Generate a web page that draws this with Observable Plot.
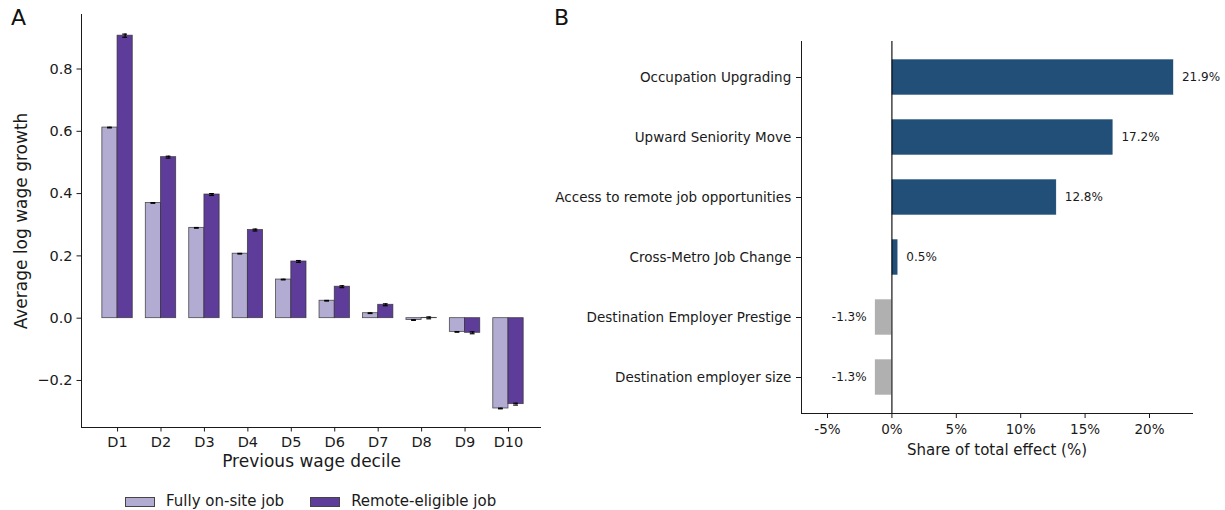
<!DOCTYPE html>
<html><head><meta charset="utf-8">
<script src="https://cdn.jsdelivr.net/npm/d3@7"></script>
<script src="https://cdn.jsdelivr.net/npm/@observablehq/plot@0.6"></script>
<style>
body{margin:0;background:#fff;font-family:"DejaVu Sans",sans-serif;}
#wrap{position:relative;width:1225px;height:510px;overflow:hidden;background:#fff;}
.panel{position:absolute;top:0;}
.letter{position:absolute;font-size:22px;line-height:1;color:#111;}
#legend{position:absolute;left:125px;top:494px;display:flex;align-items:center;font-size:15px;line-height:1;color:#1a1a1a;}
.item{display:flex;align-items:center;margin-right:26px;}
.sw{width:30px;height:10px;box-sizing:border-box;border:1px solid #444;margin-right:11px;}
</style></head><body>
<div id="wrap">
  <div id="pa" class="panel" style="left:0;width:545px"></div>
  <div id="pb" class="panel" style="left:545px;width:680px"></div>
  <div class="letter" style="left:11px;top:7px">A</div>
  <div class="letter" style="left:554px;top:7px">B</div>
  <div id="legend"></div>
</div>
<script>
// ---------- Panel A data ----------
const deciles = ["D1","D2","D3","D4","D5","D6","D7","D8","D9","D10"];
const seriesNames = ["Fully on-site job","Remote-eligible job"];
const seriesColors = ["#b2abd2","#5e3c99"];
const onsite    = [0.612, 0.370, 0.290, 0.207, 0.124, 0.056, 0.016, -0.006, -0.044, -0.290];
const remote    = [0.907, 0.517, 0.397, 0.283, 0.182, 0.101, 0.043, 0.001, -0.047, -0.276];
const onsiteErr = [0.001, 0.001, 0.001, 0.001, 0.001, 0.001, 0.001, 0.001, 0.001, 0.001];
const remoteErr = [0.005, 0.003, 0.003, 0.003, 0.003, 0.003, 0.003, 0.003, 0.003, 0.003];
const yTicksA = [-0.2, 0, 0.2, 0.4, 0.6, 0.8];
const yLabelA = "Average log wage growth";
const xLabelA = "Previous wage decile";

// ---------- Panel B data ----------
const factors = ["Occupation Upgrading","Upward Seniority Move","Access to remote job opportunities","Cross-Metro Job Change","Destination Employer Prestige","Destination employer size"];
const shares = [21.9, 17.2, 12.8, 0.5, -1.3, -1.3];
const xTicksB = [-5, 0, 5, 10, 15, 20];
const xLabelB = "Share of total effect (%)";
const posColor = "#214f78";
const negColor = "#b0b0b0";

// ---------- build tables ----------
const barsA = [];
deciles.forEach((d, i) => {
  barsA.push({decile: d, i, s: 0, value: onsite[i], err: onsiteErr[i]});
  barsA.push({decile: d, i, s: 1, value: remote[i], err: remoteErr[i]});
});
const W = 0.35;
const bx1 = d => d.s === 0 ? d.i - W : d.i;
const bx2 = d => d.s === 0 ? d.i : d.i + W;
const bc = d => d.s === 0 ? d.i - W/2 : d.i + W/2;

const ink = "#1a1a1a";
const xDomA = [-0.83, 9.76];
const yDomA = [-0.351, 0.975];

const plotA = Plot.plot({
  width: 545, height: 475,
  marginLeft: 81, marginRight: 4, marginTop: 14, marginBottom: 48,
  style: {fontFamily: "DejaVu Sans, sans-serif", fontSize: "14.5px", color: ink, background: "transparent"},
  x: {type: "linear", domain: xDomA, ticks: deciles.map((d, i) => i), tickFormat: i => deciles[i],
      tickSize: 4.5, tickPadding: 4.5, label: null},
  y: {domain: yDomA, ticks: yTicksA, tickFormat: v => v.toFixed(1).replace("-", "\u2212"),
      tickSize: 4.5, tickPadding: 4.5, label: null},
  marks: [
    Plot.rectY(barsA, {x1: bx1, x2: bx2, y: "value", fill: d => seriesColors[d.s], stroke: "#333", strokeWidth: 0.8, strokeOpacity: 0.85}),
    Plot.ruleX(barsA, {x: bc, y1: d => d.value - d.err, y2: d => d.value + d.err, stroke: "black", strokeWidth: 1.3}),
    Plot.ruleY(barsA, {x1: d => bc(d) - 0.055, x2: d => bc(d) + 0.055, y: d => d.value - d.err, stroke: "black", strokeWidth: 1.2}),
    Plot.ruleY(barsA, {x1: d => bc(d) - 0.055, x2: d => bc(d) + 0.055, y: d => d.value + d.err, stroke: "black", strokeWidth: 1.2}),
    Plot.ruleY([yDomA[0]], {stroke: ink, strokeWidth: 1}),
    Plot.ruleX([xDomA[0]], {stroke: ink, strokeWidth: 1}),
    Plot.text([xLabelA], {frameAnchor: "bottom", dy: 39.5, fontSize: 17, fill: ink}),
    Plot.text([yLabelA], {frameAnchor: "left", textAnchor: "middle", rotate: -90, dx: -60, fontSize: 17, fill: ink})
  ]
});
document.getElementById("pa").appendChild(plotA);

const barsB = factors.map((f, k) => ({factor: f, value: shares[k]}));
const xDomB = [-7.02, 23.34];

const plotB = Plot.plot({
  width: 680, height: 475,
  marginLeft: 256, marginRight: 33, marginTop: 41, marginBottom: 62,
  style: {fontFamily: "DejaVu Sans, sans-serif", fontSize: "13.5px", color: ink, background: "transparent"},
  x: {domain: xDomB, ticks: xTicksB, tickFormat: v => v + "%", tickSize: 5, tickPadding: 6, label: null},
  y: {type: "band", domain: factors, paddingInner: 0.4, paddingOuter: 0.3, tickSize: 5, tickPadding: 5.3, label: null},
  marks: [
    Plot.barX(barsB, {y: "factor", x: "value", fill: d => d.value >= 0 ? posColor : negColor, stroke: "white", strokeWidth: 0.6}),
    Plot.ruleX([0], {stroke: "black", strokeWidth: 1.1}),
    Plot.frame({anchor: "left", stroke: ink}),
    Plot.frame({anchor: "bottom", stroke: ink}),
    Plot.text(barsB.filter(d => d.value >= 0), {y: "factor", x: "value", text: d => d.value.toFixed(1) + "%", dx: 8, textAnchor: "start", fontSize: 12, fill: ink}),
    Plot.text(barsB.filter(d => d.value < 0), {y: "factor", x: "value", text: d => d.value.toFixed(1) + "%", dx: -8.5, textAnchor: "end", fontSize: 12, fill: ink}),
    Plot.text([xLabelB], {frameAnchor: "bottom", dy: 41, fontSize: 15, fill: ink})
  ]
});
document.getElementById("pb").appendChild(plotB);

// legend
const leg = document.getElementById("legend");
seriesNames.forEach((n, k) => {
  const it = document.createElement("div"); it.className = "item";
  const sw = document.createElement("div"); sw.className = "sw"; sw.style.background = seriesColors[k];
  const tx = document.createElement("span"); tx.textContent = n;
  it.appendChild(sw); it.appendChild(tx); leg.appendChild(it);
});
</script>
</body></html>
